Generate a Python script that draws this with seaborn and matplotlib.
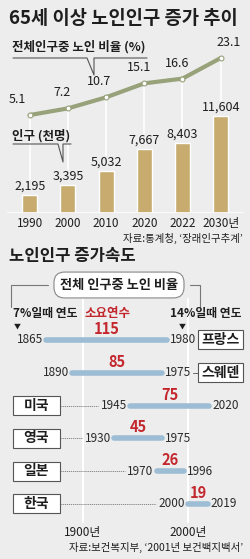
import matplotlib
matplotlib.use('Agg')
import matplotlib.pyplot as plt
import seaborn as sns
import numpy as np
from matplotlib.lines import Line2D
from matplotlib.patches import Rectangle
from matplotlib.transforms import blended_transform_factory

# top chart data
years = ['1990', '2000', '2010', '2020', '2022', '2030년']
population = [2195, 3395, 5032, 7667, 8403, 11604]      # 천명
elderly_share = [5.1, 7.2, 10.7, 15.1, 16.6, 23.1]      # %

# bottom chart data
countries = ['프랑스', '스웨덴', '미국', '영국', '일본', '한국']
year_7pct = [1865, 1890, 1945, 1930, 1970, 2000]
year_14pct = [1980, 1975, 2020, 1975, 1996, 2019]
years_needed = [115, 85, 75, 45, 26, 19]

BG = '#EDEDED'
GOLD = '#C8AB6E'
OLIVE = '#98A27A'
BLUE = '#9CBDD3'
RED = '#C3262D'
INK = '#1E1E1E'

sns.set_style('white')
plt.rcParams['font.family'] = ['Noto Sans CJK KR', 'DejaVu Sans']
plt.rcParams['axes.unicode_minus'] = False

W, H = 250, 559
fig = plt.figure(figsize=(W / 100, H / 100), dpi=100, facecolor=BG)


def fx(x):
    return x / W


def fy(y):
    return 1 - y / H


def axes_px(left, top, right, bottom):
    a = fig.add_axes([fx(left), fy(bottom), fx(right) - fx(left), fy(top) - fy(bottom)])
    a.patch.set_alpha(0)
    for s in a.spines.values():
        s.set_visible(False)
    return a


def fig_line(pts, **kw):
    xs = [fx(p[0]) for p in pts]
    ys = [fy(p[1]) for p in pts]
    fig.add_artist(Line2D(xs, ys, transform=fig.transFigure, **kw))


# ---------------- top: 65세 이상 노인인구 증가 추이 ----------------
fig.text(fx(9), fy(18), '65세 이상 노인인구 증가 추이', fontsize=13.5, weight='bold',
         color=INK, ha='left', va='center')

ax = axes_px(6.8, 30, 243.6, 213)
sns.barplot(x=years, y=population, ax=ax, color=GOLD, width=0.39, saturation=1)
ax.set_xlim(-0.6, 5.6)
ax.set_ylim(0, 183 * 119.3)
ax.set_yticks([])
ax.set_ylabel('')
ax.tick_params(axis='x', length=0, pad=3, labelsize=8.5, colors=INK)
ax.axhline(0, color='white', lw=1.2)
for i, v in enumerate(population):
    ax.annotate(f'{v:,}', xy=(i, v), xytext=(0, 2), textcoords='offset pixels',
                ha='center', va='bottom', fontsize=9, color=INK, zorder=5)

ax2 = ax.twinx()
ax2.patch.set_alpha(0)
for s in ax2.spines.values():
    s.set_visible(False)
ax2.set_ylim(-25.83, 31.95)
ax2.set_yticks([])

# white guide lines from each point down to the bar label
for i, (p, v) in enumerate(zip(elderly_share, population)):
    disp = ax.transData.transform((i, v))
    low = ax2.transData.inverted().transform((disp[0], disp[1] + 15))[1]
    ax2.vlines(i, low, p, color='white', lw=1.2, zorder=1)

sns.pointplot(x=years, y=elderly_share, ax=ax2, color=OLIVE, errorbar=None,
              markers='o', linewidth=3, markersize=3.5, markerfacecolor='white',
              markeredgecolor=OLIVE, markeredgewidth=0.8)
ax2.set_xlim(-0.6, 5.6)
ax2.set_ylabel('')
ax2.set_yticks([])

label_dx = [-12, -6, -7, -5, -5, 8]
for i, p in enumerate(elderly_share):
    ax2.annotate(f'{p}', xy=(i, p), xytext=(label_dx[i], 9), textcoords='offset pixels',
                 ha='center', va='bottom', fontsize=9, color=INK)

fig.text(fx(12), fy(47), '전체인구중 노인 비율 (%)', fontsize=9, weight='bold', color=INK,
         ha='left', va='center')
fig_line([(13, 58), (87, 58), (94, 75), (94, 58), (147, 58)], color='#555555', lw=0.8)

fig.text(fx(12), fy(136), '인구 (천명)', fontsize=9, weight='bold', color=INK,
         ha='left', va='center')
fig_line([(13, 144), (58, 144), (63, 162), (63, 144), (71, 144)], color='#555555', lw=0.8)

fig.text(fx(243), fy(238), '자료:통계청, ‘장래인구추계’', fontsize=7.5, color=INK,
         ha='right', va='center')

# ---------------- bottom: 노인인구 증가속도 ----------------
fig.text(fx(9), fy(256), '노인인구 증가속도', fontsize=12, weight='bold', color=INK,
         ha='left', va='center')

fig.text(fx(119), fy(285), '전체 인구중 노인 비율', fontsize=9.5, weight='bold', color=INK,
         ha='center', va='center',
         bbox=dict(boxstyle='round,pad=0.45,rounding_size=0.8', fc='white', ec='#888888', lw=0.8))
fig_line([(48, 285), (11, 285), (11, 307)], color='#777777', lw=0.8)
fig_line([(190, 285), (200, 285), (200, 307)], color='#777777', lw=0.8)

fig.text(fx(45), fy(314), '7%일때 연도', fontsize=8.5, weight='bold', color=INK,
         ha='center', va='center')
fig.text(fx(206), fy(314), '14%일때 연도', fontsize=8.5, weight='bold', color=INK,
         ha='center', va='center')
fig.text(fx(107), fy(313), '소요연수', fontsize=9, weight='bold', color=RED,
         ha='center', va='center')
fig.text(fx(17), fy(327), '▼', fontsize=5, color=INK, ha='center', va='center')
fig.text(fx(182), fy(327), '▼', fontsize=5, color=INK, ha='center', va='center')

ax3 = axes_px(0, 290, 250, 523)
ax3.set_xlim(1821, 2059)
ax3.set_ylim(5.58, -1.52)
rows = np.arange(len(countries))

ax3.axvline(1900, ymin=0, ymax=0.96, color='white', lw=1.5, zorder=0)
ax3.axvline(2000, ymin=0, ymax=0.96, color='white', lw=1.5, zorder=0)

ax3.hlines(rows, year_7pct, year_14pct, color=BLUE, lw=4, capstyle='round', zorder=2)

trans = blended_transform_factory(ax3.transAxes, ax3.transData)
for r, (name, a, b, n) in enumerate(zip(countries, year_7pct, year_14pct, years_needed)):
    ax3.annotate(str(n), xy=((a + b) / 2, r), xytext=(0, 11), textcoords='offset pixels',
                 ha='center', va='center', fontsize=10.5, weight='bold', color=RED)
    ax3.annotate(str(a), xy=(a, r), xytext=(-3, 0), textcoords='offset pixels',
                 ha='right', va='center', fontsize=8.5, color='#2A2A2A')
    ax3.annotate(str(b), xy=(b, r), xytext=(3, 0), textcoords='offset pixels',
                 ha='left', va='center', fontsize=8.5, color='#2A2A2A')

    a_px = ax3.transData.transform((a, r))[0]
    b_px = ax3.transData.transform((b, r))[0]
    if a < 1900:
        x0, w = 198, 45
        end_lbl = b_px + 30
        if x0 - end_lbl > 4:
            ax3.plot([fx(end_lbl + 1), fx(x0)], [r, r], transform=trans,
                     color='#666666', lw=0.7)
    else:
        x0, w = 13, 47
        ax3.plot([fx(x0 + w), fx(a_px - 32)], [r, r], transform=trans,
                 color='#777777', lw=0.6, ls=(0, (1.5, 1)))
    ax3.add_patch(Rectangle((fx(x0), r - 0.29), fx(w), 0.58, transform=trans,
                            fc='white', ec='#555555', lw=0.8, clip_on=False, zorder=3))
    ax3.text(fx(x0 + w / 2), r, name, transform=trans, ha='center', va='center',
             fontsize=10, weight='bold', color=INK, zorder=4)

ax3.set_yticks([])
ax3.set_xticks([1900, 2000], ['1900년', '2000년'])
ax3.tick_params(axis='x', length=0, pad=2, labelsize=8.5, colors=INK)

fig.text(fx(243), fy(547), '자료:보건복지부, ‘2001년 보건백지백서’', fontsize=7.5, color=INK,
         ha='right', va='center')

fig.savefig('out.png', dpi=100, facecolor=BG)
